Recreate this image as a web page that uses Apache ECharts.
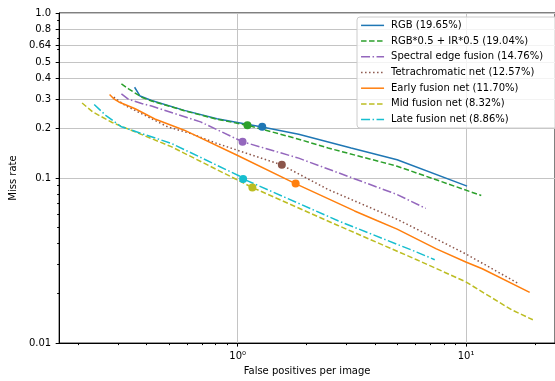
<!DOCTYPE html>
<html>
<head>
<meta charset="utf-8">
<script src="https://cdn.jsdelivr.net/npm/echarts@6/dist/echarts.min.js"></script>
<style>
  html, body { margin: 0; padding: 0; background: #fff; }
  #chart { width: 555px; height: 381px; }
</style>
</head>
<body>
<div id="chart"></div>
<script>
// curve data: false positives per image (x) vs miss rate (y)
const rgbFppi = [0.354, 0.374, 0.42, 0.584, 0.812, 1.28, 1.85, 3.14, 4.99, 10.1];
const rgbMiss = [0.355, 0.314, 0.295, 0.257, 0.229, 0.204, 0.184, 0.152, 0.129, 0.0893];

const mixFppi = [0.31, 0.333, 0.38, 0.42, 0.584, 0.812, 1.10, 1.85, 2.49, 4.99, 11.65];
const mixMiss = [0.372, 0.347, 0.309, 0.293, 0.256, 0.227, 0.209, 0.172, 0.152, 0.118, 0.0784];

const edgeFppi = [0.31, 0.333, 0.38, 0.42, 0.688, 1.05, 1.85, 4.99, 6.66];
const edgeMiss = [0.324, 0.30, 0.283, 0.273, 0.219, 0.166, 0.132, 0.0795, 0.0655];

const tetraFppi = [0.287, 0.322, 0.42, 0.495, 0.624, 0.812, 0.99, 1.56, 2.49, 4.99, 9.97, 16.9];
const tetraMiss = [0.309, 0.275, 0.229, 0.204, 0.186, 0.162, 0.148, 0.120, 0.0852, 0.0563, 0.0347, 0.023];

const earlyFppi = [0.275, 0.287, 0.302, 0.356, 0.434, 0.584, 0.99, 1.79, 3.25, 4.09, 4.99, 7.41, 9.97, 11.77, 18.98];
const earlyMiss = [0.321, 0.302, 0.289, 0.263, 0.228, 0.195, 0.138, 0.0926, 0.0632, 0.0551, 0.049, 0.0372, 0.031, 0.0282, 0.0203];

const midFppi = [0.2085, 0.232, 0.2825, 0.512, 1.023, 1.16, 2.75, 6.08, 9.97, 15.83, 19.6];
const midMiss = [0.285, 0.2515, 0.217, 0.155, 0.0957, 0.0876, 0.0516, 0.032, 0.0235, 0.0159, 0.01385];

const lateFppi = [0.2356, 0.2644, 0.31, 0.512, 1.023, 1.057, 2.75, 6.08, 7.29];
const lateMiss = [0.2793, 0.24, 0.2044, 0.1623, 0.1025, 0.0988, 0.0551, 0.0356, 0.032];

const seriesNames = [
  'RGB (19.65%)',
  'RGB*0.5 + IR*0.5 (19.04%)',
  'Spectral edge fusion (14.76%)',
  'Tetrachromatic net (12.57%)',
  'Early fusion net (11.70%)',
  'Mid fusion net (8.32%)',
  'Late fusion net (8.86%)'
];
const markerFppi = [1.281, 1.104, 1.051, 1.561, 1.794, 1.16, 1.057];
const markerMiss = [0.2044, 0.209, 0.1662, 0.1203, 0.0926, 0.0876, 0.0988];

const yTickValues = [0.01, 0.1, 0.2, 0.3, 0.4, 0.5, 0.64, 0.8, 1.0];
const yMinorTicks = [0.02, 0.03, 0.04, 0.05, 0.06, 0.07, 0.08, 0.09, 0.2, 0.3, 0.4, 0.5, 0.6, 0.7, 0.8, 0.9];
const xTickValues = [1, 10];
const xTickLabels = ['10\u2070', '10\u00b9'];
const xMinorTicks = [0.2, 0.3, 0.4, 0.5, 0.6, 0.7, 0.8, 0.9, 2, 3, 4, 5, 6, 7, 8, 9, 20];

const FONT = 'DejaVu Sans';
const X_MIN = 0.1655, X_MAX = 24.5;

const curves = [
  { x: rgbFppi, y: rgbMiss, color: '#1f77b4', dash: 'solid' },
  { x: mixFppi, y: mixMiss, color: '#2ca02c', dash: [5.5, 2.5] },
  { x: edgeFppi, y: edgeMiss, color: '#9467bd', dash: [9, 2.5, 1.5, 2.5] },
  { x: tetraFppi, y: tetraMiss, color: '#8c564b', dash: [1.5, 2.5] },
  { x: earlyFppi, y: earlyMiss, color: '#ff7f0e', dash: 'solid' },
  { x: midFppi, y: midMiss, color: '#bcbd22', dash: [5.5, 2.5] },
  { x: lateFppi, y: lateMiss, color: '#17becf', dash: [9, 2.5, 1.5, 2.5] }
];

const chart = echarts.init(document.getElementById('chart'));

const series = curves.map((c, i) => ({
  name: seriesNames[i],
  type: 'line',
  xAxisIndex: 0,
  yAxisIndex: 0,
  showSymbol: false,
  symbol: 'none',
  data: c.x.map((v, k) => [v, c.y[k]]),
  color: c.color,
  lineStyle: { color: c.color, width: 1.5, type: c.dash },
  emphasis: { disabled: true },
  markPoint: {
    silent: true,
    symbol: 'circle',
    symbolSize: 8,
    label: { show: false },
    itemStyle: { color: c.color },
    data: [{ coord: [markerFppi[i], markerMiss[i]] }]
  }
}));

const axisCommon = { type: 'log', logBase: 10 };

chart.setOption({
  animation: false,
  textStyle: { fontFamily: FONT },
  grid: {
    left: 56, right: -6, top: 13, bottom: 34,
    show: true, borderColor: '#000', borderWidth: 1, backgroundColor: 'transparent'
  },
  xAxis: [
    {
      ...axisCommon, min: X_MIN, max: X_MAX, position: 'bottom',
      name: 'False positives per image', nameLocation: 'middle', nameGap: 22,
      nameTextStyle: { fontFamily: FONT, fontSize: 10, color: '#000' },
      axisLine: { show: true, onZero: false, lineStyle: { color: '#000', width: 1 } },
      axisTick: { show: true, customValues: xTickValues, length: 3.5, lineStyle: { color: '#000' } },
      axisLabel: {
        customValues: xTickValues, margin: 8, fontFamily: FONT, fontSize: 10, color: '#000',
        formatter: v => xTickLabels[xTickValues.indexOf(Math.round(v))] || ''
      },
      splitLine: { show: true, lineStyle: { color: '#c4c4c4', width: 1 } }
    },
    {
      ...axisCommon, min: X_MIN, max: X_MAX, position: 'bottom',
      axisLine: { show: false, onZero: false },
      axisTick: { show: true, customValues: xMinorTicks, length: 2, lineStyle: { color: '#000' } },
      axisLabel: { show: false },
      splitLine: { show: false }
    }
  ],
  yAxis: [
    {
      ...axisCommon, min: 0.01, max: 1, position: 'left',
      name: 'Miss rate', nameLocation: 'middle', nameGap: 32, nameRotate: 90,
      nameTextStyle: { fontFamily: FONT, fontSize: 10, color: '#000' },
      axisLine: { show: true, onZero: false, lineStyle: { color: '#000', width: 1 } },
      axisTick: { show: true, customValues: yTickValues, length: 3.5, lineStyle: { color: '#000' } },
      axisLabel: {
        customValues: yTickValues, margin: 8, fontFamily: FONT, fontSize: 10, color: '#000',
        formatter: v => (Math.abs(v - 1) < 1e-9 ? '1.0' : String(+v.toPrecision(3)))
      },
      splitLine: { show: true, lineStyle: { color: '#c4c4c4', width: 1 } }
    },
    {
      ...axisCommon, min: 0.01, max: 1, position: 'left', offset: 0,
      axisLine: { show: false, onZero: false },
      axisTick: { show: true, customValues: yMinorTicks, length: 2, lineStyle: { color: '#000' } },
      axisLabel: { show: false },
      splitLine: { show: false }
    }
  ],
  legend: {
    orient: 'vertical', left: 357, top: 17,
    padding: [3.4, 40, 3.4, 3.3],
    itemWidth: 23, itemHeight: 10, itemGap: 5.7,
    backgroundColor: 'rgba(255,255,255,0.8)', borderColor: '#cccccc', borderWidth: 1, borderRadius: 3,
    itemStyle: { opacity: 0 },
    lineStyle: { width: 1.5 },
    textStyle: { fontFamily: FONT, fontSize: 10, color: '#000', lineHeight: 10, padding: [0, 0, 0, 2] },
    data: seriesNames
  },
  series
});
</script>
</body>
</html>
